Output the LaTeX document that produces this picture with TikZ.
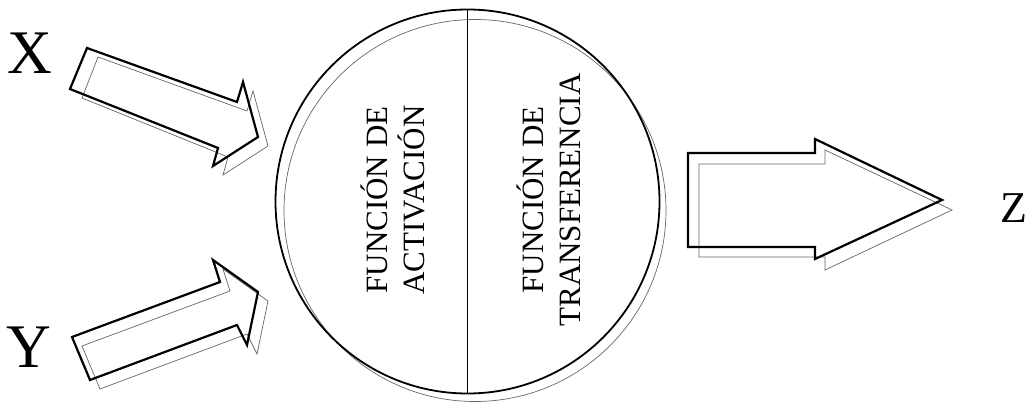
\documentclass[tikz,border=0pt]{standalone}
\usepackage{fontspec}
\setmainfont{Liberation Serif}
\begin{document}
\begin{tikzpicture}[x=1pt,y=-1pt,
  main/.style={draw=black,line width=2.2pt,line join=miter},
  shadow/.style={draw=black!60,line width=0.7pt,line join=miter},
  fn/.style={rotate=90,align=center,font=\fontsize{31}{37}\selectfont,inner sep=0pt},
  big/.style={font=\fontsize{62}{62}\selectfont,inner sep=0pt}]
\useasboundingbox (0,0) rectangle (1027,406);
% circle and its shadow
\draw[shadow] (475,210.5) circle (191);
\node[circle,draw,line width=1.8pt,minimum size=384pt,inner sep=0pt] (circ) at (467.5,201.5) {};
\draw[line width=1.4pt] (circ.north) -- (circ.south);
% labels inside
\node[fn] (act) at (393,200) {FUNCIÓN DE\\ACTIVACIÓN};
\node[fn] (tra) at (549,200) {FUNCIÓN DE\\TRANSFERENCIA};
% X arrow
\draw[shadow] (98,57) -- (82,98) -- (228,157) -- (223,175) -- (268,146) -- (253,91) -- (247,111) -- cycle;
\draw[main] (87,48) -- (70,89) -- (218,148) -- (213,166) -- (258,137) -- (243,82) -- (237,102) -- cycle;
% Y arrow
\draw[shadow] (82,346) -- (100,389) -- (247,334) -- (257,354) -- (268,301) -- (223,269) -- (230,291) -- cycle;
\draw[main] (72,337) -- (90,380) -- (237,325) -- (247,345) -- (258,292) -- (213,260) -- (220,282) -- cycle;
% Z arrow
\draw[shadow] (699,164) -- (699,257) -- (825,257) -- (825,270) -- (952,210) -- (825,150) -- (825,164) -- cycle;
\draw[main] (688,153) -- (688,247) -- (815,247) -- (815,259) -- (942,200) -- (815,139) -- (815,153) -- cycle;
% letters
\node[big] (X) at (30,53) {X};
\node[big] (Y) at (29,347) {Y};
\node[font=\fontsize{44}{44}\selectfont,inner sep=0pt] (Z) at (1014,208) {Z};
\end{tikzpicture}
\end{document}
